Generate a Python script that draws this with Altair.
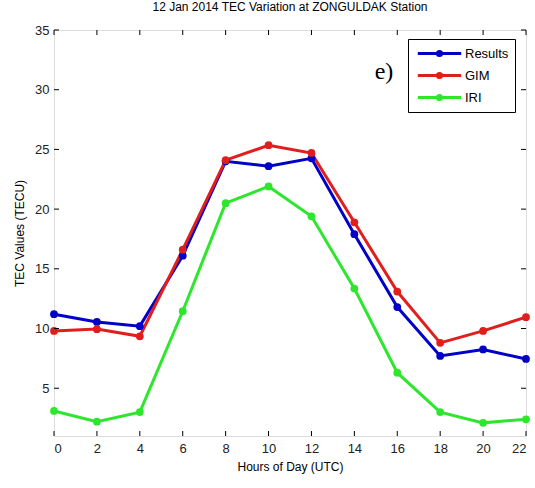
import altair as alt
import pandas as pd

hours = [0, 2, 4, 6, 8, 10, 12, 14, 16, 18, 20, 22]
results = [11.2, 10.55, 10.2, 16.1, 24.0, 23.6, 24.25, 17.9, 11.8, 7.7, 8.25, 7.45]
gim = [9.8, 9.95, 9.35, 16.6, 24.1, 25.35, 24.7, 18.9, 13.1, 8.8, 9.8, 10.95]
iri = [3.1, 2.2, 3.0, 11.45, 20.5, 21.9, 19.4, 13.35, 6.3, 3.0, 2.1, 2.4]
series_names = ["Results", "GIM", "IRI"]
series_colors = ["#0000c8", "#e01e1e", "#2ee62e"]
x_ticks = [0, 2, 4, 6, 8, 10, 12, 14, 16, 18, 20, 22]
y_ticks = [5, 10, 15, 20, 25, 30, 35]

W, H = 472, 406
FONT = "Liberation Sans"

rows = []
for name, vals in zip(series_names, [results, gim, iri]):
    for h, v in zip(hours, vals):
        rows.append({"hour": h, "tec": v, "series": name})
df = pd.DataFrame(rows)

xs = alt.Scale(domain=[0, 22], nice=False, zero=False)
ys = alt.Scale(domain=[1, 35], nice=False, zero=False)

color = alt.Color(
    "series:N",
    scale=alt.Scale(domain=series_names, range=series_colors),
    legend=alt.Legend(
        title=None,
        orient="none",
        legendX=354,
        legendY=9,
        strokeColor="black",
        fillColor="white",
        padding=6,
        symbolType="M-3.1,0H3.1M-0.3,0A0.3,0.3,0,1,1,0.3,0A0.3,0.3,0,1,1,-0.3,0",
        symbolSize=196,
        symbolStrokeWidth=3,
        symbolOffset=17,
        labelFont=FONT,
        labelFontSize=13,
        labelColor="black",
        rowPadding=5,
        labelOffset=17,
        labelLimit=200,
    ),
)

lines = alt.Chart(df).mark_line(strokeWidth=3, point=alt.OverlayMarkDef(size=60, filled=True)).encode(
    x=alt.X("hour:Q", scale=xs, axis=alt.Axis(
        values=x_ticks, title="Hours of Day (UTC)", ticks=False, labelPadding=6,
        grid=False, domain=False, labelFont=FONT, labelFontSize=13, labelColor="#222",
        titleFont=FONT, titleFontSize=12, titleFontWeight="normal", titleColor="black", titlePadding=6)),
    y=alt.Y("tec:Q", scale=ys, axis=alt.Axis(
        values=y_ticks, title="TEC Values (TECU)", ticks=False, labelPadding=5,
        grid=False, domain=False, labelFont=FONT, labelFontSize=13, labelColor="#222",
        titleFont=FONT, titleFontSize=12, titleFontWeight="normal", titleColor="black", titlePadding=8)),
    color=color,
)

xt = pd.DataFrame({"x": x_ticks})
yt = pd.DataFrame({"y": y_ticks})
tick_style = dict(color="black", strokeWidth=1)
xb = alt.Chart(xt).mark_rule(**tick_style).encode(x=alt.X("x:Q", scale=xs), y=alt.value(H), y2=alt.value(H - 5))
xtp = alt.Chart(xt).mark_rule(**tick_style).encode(x=alt.X("x:Q", scale=xs), y=alt.value(0), y2=alt.value(5))
yl = alt.Chart(yt).mark_rule(**tick_style).encode(y=alt.Y("y:Q", scale=ys), x=alt.value(0), x2=alt.value(5))
yr = alt.Chart(yt).mark_rule(**tick_style).encode(y=alt.Y("y:Q", scale=ys), x=alt.value(W), x2=alt.value(W - 5))

label = alt.Chart(pd.DataFrame({"t": ["e)"]})).mark_text(
    font="Liberation Serif", fontSize=24, color="black", align="center", baseline="middle"
).encode(text="t:N", x=alt.value(330), y=alt.value(42))

chart = alt.layer(lines, xb, xtp, yl, yr, label).properties(
    width=W, height=H,
    title=alt.TitleParams("12 Jan 2014 TEC Variation at ZONGULDAK Station", font=FONT, fontSize=12,
                          fontWeight="normal", color="black", offset=10),
    autosize=alt.AutoSizeParams(type="none"),
    padding={"left": 54, "top": 30, "right": 9, "bottom": 52},
).configure_view(stroke="black", strokeWidth=1).configure(background="white")

chart.save("out.html", embed_options={"renderer": "svg", "actions": False})
